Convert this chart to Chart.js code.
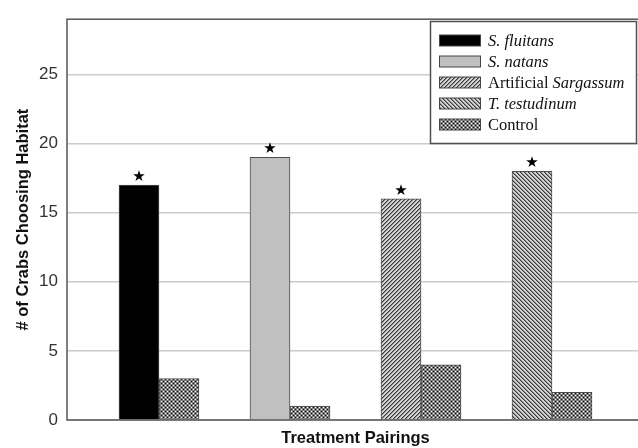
<!DOCTYPE html>
<html><head><meta charset="utf-8">
<script src="https://cdn.jsdelivr.net/npm/chart.js@4/dist/chart.umd.min.js"></script>
<style>
html,body{margin:0;padding:0;overflow:hidden;background:#fff;width:638px;height:448px}
#wrap{position:absolute;left:0;top:0;width:645px;height:448px}
</style>
</head><body><div id="wrap"><canvas id="c"></canvas></div>
<script>
// ---- data ----
const categories = ['S. fluitans', 'S. natans', 'Artificial Sargassum', 'T. testudinum'];
const treatmentValues = [17, 19, 16, 18];
const controlValues = [3, 1, 4, 2];
const significant = [true, true, true, true];
const yTicks = [0, 5, 10, 15, 20, 25];
const legendNames = ['S. fluitans', 'S. natans', 'Artificial Sargassum', 'T. testudinum', 'Control'];
const legendItalic = [['S. fluitans'], ['S. natans'], ['Sargassum'], ['T. testudinum'], []];

// ---- patterns ----
const canvas = document.getElementById('c');
const mainCtx = canvas.getContext('2d');
function makePattern(w, h, draw) {
  const t = document.createElement('canvas'); t.width = w; t.height = h;
  const g = t.getContext('2d'); draw(g, w, h);
  return mainCtx.createPattern(t, 'repeat');
}
const patForward = makePattern(4, 4, (g, w, h) => {
  g.fillStyle = '#d4d4d4'; g.fillRect(0, 0, w, h);
  for (let x = 0; x < w; x++) for (let y = 0; y < h; y++) {
    const k = (x + y) % 4;
    if (k === 3) { g.fillStyle = '#383838'; g.fillRect(x, y, 1, 1); }
    else if (k === 0) { g.fillStyle = '#8a8a8a'; g.fillRect(x, y, 1, 1); }
  }
});
const patBack = makePattern(4, 4, (g, w, h) => {
  g.fillStyle = '#d4d4d4'; g.fillRect(0, 0, w, h);
  for (let x = 0; x < w; x++) for (let y = 0; y < h; y++) {
    const k = ((x - y) % 4 + 4) % 4;
    if (k === 0) { g.fillStyle = '#383838'; g.fillRect(x, y, 1, 1); }
    else if (k === 1) { g.fillStyle = '#8a8a8a'; g.fillRect(x, y, 1, 1); }
  }
});
const patControl = makePattern(4, 4, (g, w, h) => {
  g.fillStyle = '#7c7c7c'; g.fillRect(0, 0, w, h);
  g.fillStyle = '#ffffff'; g.fillRect(1, 1, 1, 1); g.fillRect(3, 3, 1, 1);
  g.fillStyle = '#111111'; g.fillRect(3, 1, 1, 1); g.fillRect(1, 3, 1, 1);
});
const treatmentFills = ['#000000', '#c0c0c0', patForward, patBack];
const legendFills = [...treatmentFills, patControl];

// ---- plugins ----
const framePlugin = {
  id: 'frame',
  afterDatasetsDraw(chart) {
    const {ctx, chartArea: a} = chart;
    ctx.save();
    ctx.strokeStyle = '#555555'; ctx.lineWidth = 1.5;
    ctx.strokeRect(a.left, a.top, a.right - a.left, a.bottom - a.top);
    ctx.restore();
  }
};
const starPlugin = {
  id: 'stars',
  afterDatasetsDraw(chart) {
    const meta = chart.getDatasetMeta(0);
    const ctx = chart.ctx;
    ctx.save();
    ctx.fillStyle = '#000';
    ctx.font = '15px "DejaVu Sans"';
    ctx.textAlign = 'center'; ctx.textBaseline = 'middle';
    meta.data.forEach((el, i) => { if (significant[i]) ctx.fillText('\u2605', el.x, el.y - 8); });
    ctx.restore();
  }
};
const legendPlugin = {
  id: 'customLegend',
  afterDraw(chart) {
    const ctx = chart.ctx;
    ctx.save();
    ctx.fillStyle = '#fff'; ctx.strokeStyle = '#505050'; ctx.lineWidth = 1.5;
    ctx.fillRect(430.5, 21.5, 206, 122); ctx.strokeRect(430.5, 21.5, 206, 122);
    legendNames.forEach((name, i) => {
      const cy = 40.5 + i * 21;
      ctx.fillStyle = legendFills[i];
      ctx.fillRect(439.5, cy - 5.5, 41, 11);
      ctx.strokeStyle = '#444'; ctx.lineWidth = 1;
      ctx.strokeRect(439.5, cy - 5.5, 41, 11);
      let runs = [{t: name, it: false}];
      legendItalic[i].forEach(part => {
        const out = [];
        runs.forEach(r => {
          if (r.it || r.t.indexOf(part) < 0) { out.push(r); return; }
          const k = r.t.indexOf(part);
          if (k > 0) out.push({t: r.t.slice(0, k), it: false});
          out.push({t: part, it: true});
          if (k + part.length < r.t.length) out.push({t: r.t.slice(k + part.length), it: false});
        });
        runs = out;
      });
      let x = 488;
      ctx.fillStyle = '#111'; ctx.textBaseline = 'middle'; ctx.textAlign = 'left';
      runs.forEach(r => {
        ctx.font = (r.it ? 'italic ' : '') + '16.5px "Liberation Serif"';
        ctx.fillText(r.t, x, cy + 1);
        x += ctx.measureText(r.t).width;
      });
    });
    ctx.restore();
  }
};

// ---- chart ----
new Chart(canvas, {
  type: 'bar',
  data: {
    datasets: [
      {
        label: 'Treatment',
        data: treatmentValues.map((v, i) => ({x: i, y: v})),
        backgroundColor: treatmentFills,
        borderColor: '#4d4d4d', borderWidth: 1
      },
      {
        label: 'Control',
        data: controlValues.map((v, i) => ({x: i, y: v})),
        backgroundColor: patControl,
        borderColor: '#4d4d4d', borderWidth: 1
      }
    ]
  },
  options: {
    responsive: true, maintainAspectRatio: false, animation: false,
    layout: {padding: {top: 15, right: 1, left: 0, bottom: 0}},
    datasets: {bar: {barThickness: 40, grouped: true}},
    plugins: {legend: {display: false}, tooltip: {enabled: false}},
    scales: {
      x: {
        type: 'linear', min: -0.7023, max: 3.7023,
        afterBuildTicks: s => { s.ticks = []; },
        afterFit: s => { s.height = 28; },
        ticks: {display: false},
        grid: {display: false, drawTicks: false},
        border: {display: false},
        title: {display: true, text: 'Treatment Pairings', color: '#111',
          font: {family: '"Liberation Sans", Arial', size: 16.5, weight: 'bold'},
          padding: {top: 0, bottom: 0}}
      },
      y: {
        min: 0, max: 29,
        afterBuildTicks: s => { s.ticks = yTicks.map(v => ({value: v})); },
        afterFit: s => { s.width = 67; },
        ticks: {color: '#333', padding: 9, font: {family: '"Liberation Sans", Arial', size: 17}},
        grid: {color: '#cccccc', lineWidth: 1.5, drawTicks: false},
        border: {display: false},
        title: {display: true, text: '# of Crabs Choosing Habitat', color: '#111',
          font: {family: '"Liberation Sans", Arial', size: 16.5, weight: 'bold'},
          padding: {top: 14, bottom: 0}}
      }
    }
  },
  plugins: [framePlugin, starPlugin, legendPlugin]
});
</script>
</body></html>
